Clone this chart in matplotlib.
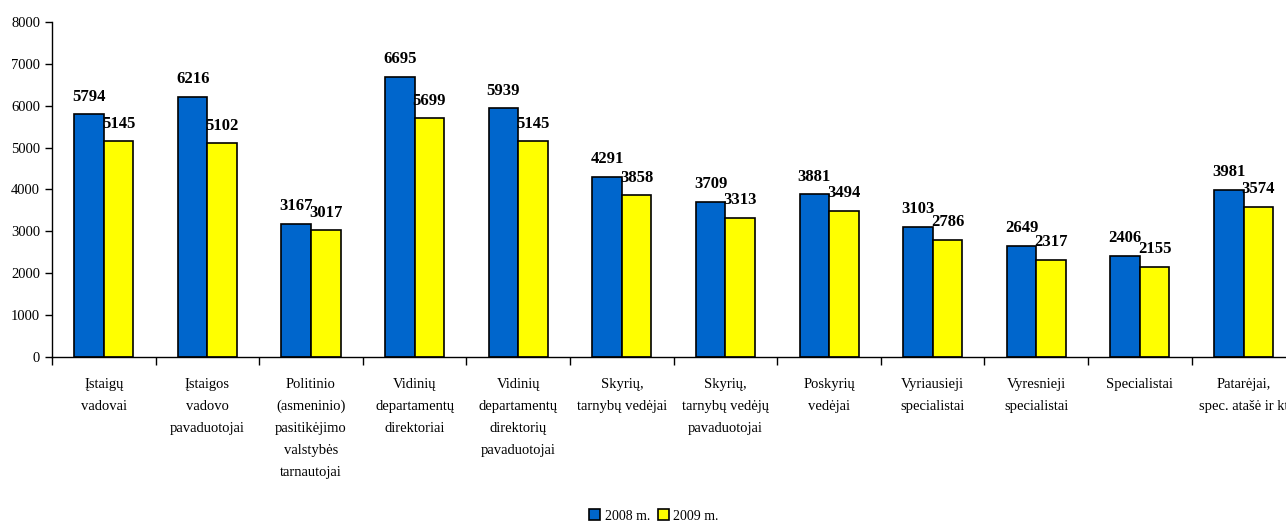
import matplotlib.pyplot as plt
import numpy as np

categories = [
	'Įstaigų\nvadovai',
	'Įstaigos\nvadovo\npavaduotojai',
	'Politinio\n(asmeninio)\npasitikėjimo\nvalstybės\ntarnautojai',
	'Vidinių\ndepartamentų\ndirektoriai',
	'Vidinių\ndepartamentų\ndirektorių\npavaduotojai',
	'Skyrių,\ntarnybų vedėjai',
	'Skyrių,\ntarnybų vedėjų\npavaduotojai',
	'Poskyrių\nvedėjai',
	'Vyriausieji\nspecialistai',
	'Vyresnieji\nspecialistai',
	'Specialistai',
	'Patarėjai,\nspec. atašė ir kt',
]
values_2008 = [5794, 6216, 3167, 6695, 5939, 4291, 3709, 3881, 3103, 2649, 2406, 3981]
values_2009 = [5145, 5102, 3017, 5699, 5145, 3858, 3313, 3494, 2786, 2317, 2155, 3574]
series_names = ['2008 m.', '2009 m.']

plt.rcParams['font.family'] = ['Liberation Serif', 'DejaVu Serif']

W, H = 1286, 532
fig = plt.figure(figsize=(W / 100, H / 100), dpi=100)
ax = fig.add_axes([52 / W, (H - 356.7) / H, (W - 52) / W, (356.7 - 22) / H])

x = np.arange(len(categories))
w = 0.285
b1 = ax.bar(x - w / 2, values_2008, w, color='#0066CC', edgecolor='black', linewidth=1.2, label=series_names[0])
b2 = ax.bar(x + w / 2, values_2009, w, color='#FFFF00', edgecolor='black', linewidth=1.2, label=series_names[1])

for bars in (b1, b2):
	for r in bars:
		ax.annotate(str(int(r.get_height())), (r.get_x() + r.get_width() / 2, r.get_height()),
			xytext=(0, 7), textcoords='offset points', ha='center', va='bottom',
			fontsize=12, fontweight='bold')

ax.set_xlim(-0.5, 11.41)
ax.set_ylim(0, 8000)
ax.set_yticks(range(0, 8001, 1000))
ax.tick_params(axis='y', labelsize=10.5, length=5, width=1, direction='out')

# category labels centred, ticks between groups
ax.set_xticks(x)
ax.set_xticklabels(categories, fontsize=10.5, linespacing=1.9, va='top')
ax.tick_params(axis='x', which='major', length=0, pad=15)
ax.set_xticks(np.arange(-0.5, 11.5, 1), minor=True)
ax.tick_params(axis='x', which='minor', length=6, width=1, direction='out')

for s in ('top', 'right'):
	ax.spines[s].set_visible(False)
ax.spines['left'].set_linewidth(1)
ax.spines['bottom'].set_linewidth(1)

fig.legend(handles=[b1, b2], loc='center', bbox_to_anchor=(654 / W, (H - 516) / H),
	ncol=2, frameon=False, fontsize=10, handlelength=0.8, handleheight=0.8,
	handletextpad=0.3, columnspacing=0.6)

fig.savefig('out.png', dpi=100)
